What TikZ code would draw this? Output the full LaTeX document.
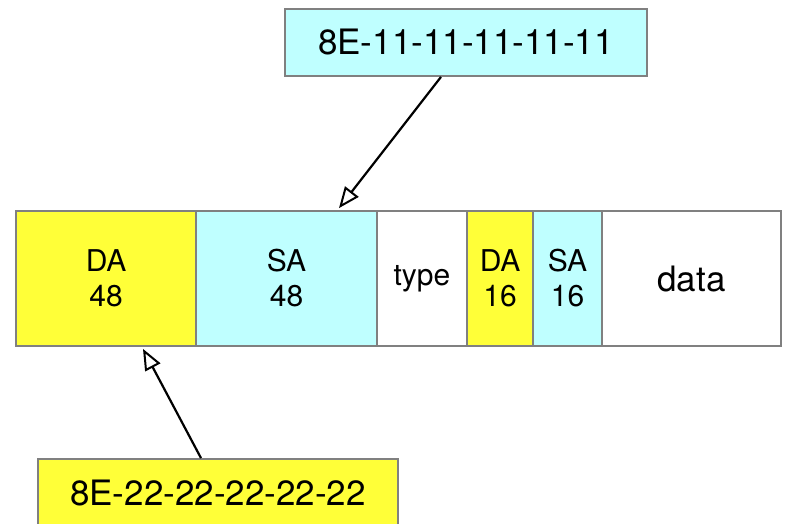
\documentclass[tikz,border=0pt]{standalone}
\usepackage{fontspec}
\setmainfont{TeX Gyre Heros}
\usetikzlibrary{arrows.meta}
\definecolor{fyellow}{RGB}{255,255,56}
\definecolor{fcyan}{RGB}{191,255,255}
\definecolor{fgray}{RGB}{128,128,128}
\tikzset{
  field/.style={draw=fgray, line width=1.8pt, minimum height=135pt, inner sep=0pt,
    align=center, font=\fontsize{30}{35}\selectfont},
  addr/.style={draw=fgray, line width=1.8pt, minimum height=67pt, inner sep=0pt,
    font=\fontsize{35}{40}\selectfont},
  link/.style={line width=2.2pt, -{Triangle[length=21pt,width=17pt,fill=white,line width=2pt]}}
}
\begin{document}
\begin{tikzpicture}[x=1pt,y=-1pt]
\useasboundingbox (0,0) rectangle (788,523);
\node[field, fill=fyellow, minimum width=180pt] (da48) at (106,278.5) {DA\\48};
\node[field, fill=fcyan, minimum width=181pt] (sa48) at (286.5,278.5) {SA\\48};
\node[field, fill=white, minimum width=90pt] (type) at (422,278.5) {type};
\node[field, fill=fyellow, minimum width=66pt] (da16) at (500,278.5) {DA\\16};
\node[field, fill=fcyan, minimum width=69pt] (sa16) at (567.5,278.5) {SA\\16};
\node[field, fill=white, minimum width=179pt, font=\fontsize{35}{40}\selectfont] (data) at (691.5,278.5) {data};
\node[addr, fill=fcyan, minimum width=362pt] (top) at (466,42.5) {8E-11-11-11-11-11};
\node[addr, fill=fyellow, minimum width=360pt] (bot) at (218,492.5) {8E-22-22-22-22-22};
\draw[link] ([xshift=-25pt]top.south) -- ([xshift=52.5pt,yshift=2pt]sa48.north);
\draw[link] ([xshift=-17pt]bot.north) -- ([xshift=37pt,yshift=-2pt]da48.south);
\end{tikzpicture}
\end{document}
